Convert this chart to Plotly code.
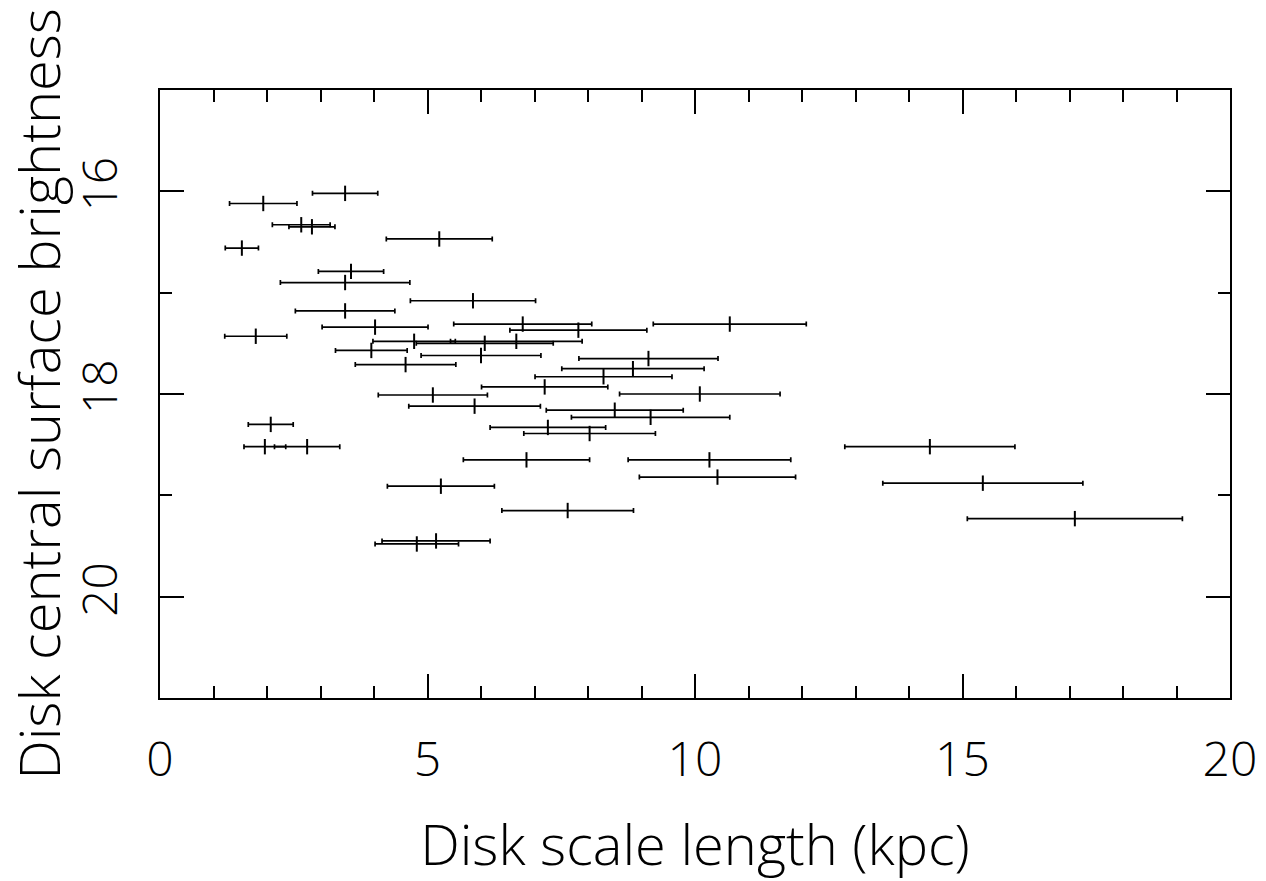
import plotly.graph_objects as go

# Disk scale length (kpc)
scale_length = [3.46, 1.93, 2.64, 2.84, 5.22, 1.53, 3.57, 3.46, 5.85, 3.46,
                4.02, 6.78, 1.79, 7.82, 10.65, 4.75, 6.66, 6.07, 3.95, 6.00,
                4.59, 9.13, 8.84, 8.29, 7.19, 5.10, 10.09, 5.88, 8.50, 9.17,
                7.25, 8.03, 6.85, 10.27, 10.42, 5.25, 7.62, 5.16, 4.80, 14.39,
                15.38, 17.10, 2.07, 1.96, 2.75]
# symmetric error on scale length
scale_length_err = [0.61, 0.63, 0.54, 0.43, 0.99, 0.31, 0.61, 1.21, 1.17, 0.93,
                    0.99, 1.29, 0.58, 1.28, 1.43, 0.77, 1.23, 1.28, 0.67, 1.12,
                    0.94, 1.30, 1.33, 1.28, 1.18, 1.02, 1.50, 1.23, 1.28, 1.48,
                    1.08, 1.23, 1.18, 1.52, 1.46, 1.00, 1.23, 1.01, 0.78, 1.59,
                    1.87, 2.01, 0.42, 0.39, 0.61]
# Disk central surface brightness
surface_brightness = [16.02, 16.12, 16.33, 16.35, 16.47, 16.56, 16.79, 16.90, 17.08, 17.18,
                      17.34, 17.31, 17.43, 17.37, 17.31, 17.48, 17.48, 17.50, 17.57, 17.62,
                      17.71, 17.65, 17.75, 17.83, 17.93, 18.01, 18.00, 18.12, 18.16, 18.23,
                      18.33, 18.39, 18.65, 18.65, 18.82, 18.91, 19.15, 19.45, 19.48, 18.52,
                      18.88, 19.23, 18.30, 18.52, 18.52]

x_ticks = [0, 5, 10, 15, 20]
y_ticks = [16, 18, 20]

FONT = "Open Sans"

fig = go.Figure()
fig.add_trace(go.Scatter(
    x=scale_length, y=surface_brightness, mode="markers",
    marker=dict(symbol="line-ns", size=11, line=dict(color="black", width=2)),
    error_x=dict(type="data", array=scale_length_err, symmetric=True,
                 color="black", thickness=1.7, width=2.5),
    showlegend=False,
))

fig.update_layout(
    width=1266, height=881,
    margin=dict(l=160, r=36, t=90, b=183),
    paper_bgcolor="white", plot_bgcolor="white",
    font=dict(family=FONT, color="black", weight=300),
)
fig.update_xaxes(
    range=[0, 20], tickvals=x_ticks, ticktext=[str(v) for v in x_ticks],
    ticks="inside", ticklen=24, tickwidth=1.6, tickcolor="black",
    minor=dict(dtick=1, ticks="inside", ticklen=12, tickwidth=1.6, tickcolor="black"),
    showline=True, linewidth=2, linecolor="black", mirror="ticks",
    showgrid=False, zeroline=False,
    tickfont=dict(size=48, family=FONT, weight=300), ticklabelstandoff=18,
    title=dict(text="Disk scale length (kpc)", font=dict(size=56, family=FONT, weight=300), standoff=42),
    automargin=False,
)
fig.update_yaxes(
    range=[21, 15], tickvals=y_ticks, ticktext=[str(v) for v in y_ticks],
    ticks="inside", ticklen=24, tickwidth=1.6, tickcolor="black",
    minor=dict(dtick=1, ticks="inside", ticklen=12, tickwidth=1.6, tickcolor="black"),
    showline=True, linewidth=2, linecolor="black", mirror="ticks",
    showgrid=False, zeroline=False, tickangle=-90,
    tickfont=dict(size=48, family=FONT, weight=300), ticklabelstandoff=22,
    title=dict(text="Disk central surface brightness", font=dict(size=56, family=FONT, weight=300), standoff=30),
    automargin=False,
)

fig.write_html("out.html")
